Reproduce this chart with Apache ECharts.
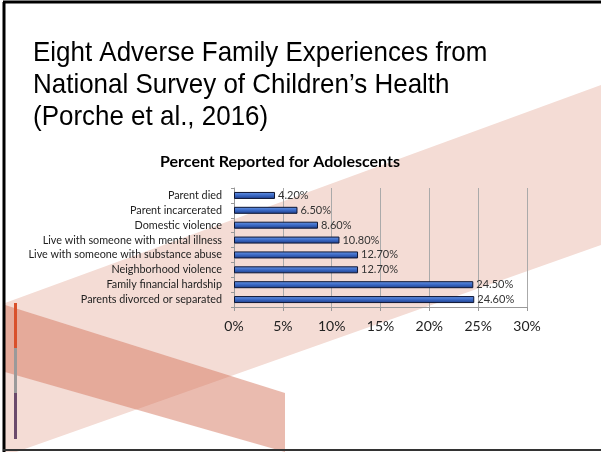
<!DOCTYPE html>
<html><head><meta charset="utf-8">
<script src="https://cdn.jsdelivr.net/npm/echarts@6/dist/echarts.min.js"></script>
<style>html,body{margin:0;padding:0;background:#fff}#c{width:601px;height:452px}</style>
</head><body><div id="c"></div>
<script>
const categories = ["Parent died","Parent incarcerated","Domestic violence","Live with someone with mental illness","Live with someone with substance abuse","Neighborhood violence","Family financial hardship","Parents divorced or separated"];
const values = [4.2,6.5,8.6,10.8,12.7,12.7,24.5,24.6];
const titleLines = ["Eight Adverse Family Experiences from","National Survey of Children’s Health","(Porche et al., 2016)"];
const chartTitle = "Percent Reported for Adolescents";

const chart = echarts.init(document.getElementById('c'));
const graphics = [
  {type:'polygon', z:-10, shape:{points:[[5,303],[601,85],[601,245],[5,456]]}, style:{fill:'#f4dcd5'}},
  {type:'polygon', z:-9, shape:{points:[[5,305],[285,393],[285,452],[5,372]]}, style:{fill:'rgba(214,120,95,0.5)'}},
  {type:'rect', z:-8, shape:{x:14,y:303,width:3,height:45}, style:{fill:'#d9502a'}},
  {type:'rect', z:-8, shape:{x:14,y:348,width:3,height:45}, style:{fill:'#9a9a9a'}},
  {type:'rect', z:-8, shape:{x:14,y:393,width:3,height:46}, style:{fill:'#6b4a6b'}},
  {type:'line', z:-7, shape:{x1:3,y1:2,x2:601,y2:2}, style:{stroke:'#000',lineWidth:3}},
  {type:'line', z:-7, shape:{x1:4,y1:2,x2:4,y2:452}, style:{stroke:'#000',lineWidth:3}},
  {type:'line', z:-7, shape:{x1:3,y1:450,x2:601,y2:450}, style:{stroke:'#333',lineWidth:2}},
  {type:'text', x:280, y:162, style:{text:chartTitle, font:'bold 16px Lato', fill:'#000', textAlign:'center', textVerticalAlign:'middle'}}
];
titleLines.forEach((t,i)=>{
  graphics.push({type:'text', x:33, y:53+32*i, scaleX:0.927, style:{text:t, font:'28px "Liberation Sans"', fill:'#000', textVerticalAlign:'middle'}});
});

chart.setOption({
  animation:false,
  graphic:{elements:graphics},
  grid:{left:234, right:74, top:188, height:119},
  xAxis:{type:'value', min:0, max:30, interval:5,
    axisLine:{show:true, lineStyle:{color:'#999'}},
    axisTick:{show:true, length:4, lineStyle:{color:'#999'}},
    splitLine:{show:true, lineStyle:{color:'#aaa'}},
    axisLabel:{formatter:'{value}%', color:'#222', fontSize:14, fontFamily:'Lato', margin:12}
  },
  yAxis:{type:'category', data:categories, inverse:true,
    axisLine:{show:true, lineStyle:{color:'#999'}},
    axisTick:{show:true, length:3, lineStyle:{color:'#999'}},
    axisLabel:{color:'#222', fontSize:10.8, fontFamily:'Lato', margin:12}
  },
  series:[{type:'bar', data:values, barWidth:7,
    itemStyle:{borderColor:'#0d1533', borderWidth:1,
      color:new echarts.graphic.LinearGradient(0,0,0,1,[{offset:0,color:'#6a98e8'},{offset:0.5,color:'#3a68c4'},{offset:1,color:'#1e3c86'}])},
    label:{show:true, position:'right', distance:3, color:'#333', fontSize:11, fontFamily:'Lato',
      formatter:p=>p.value.toFixed(2)+'%'}
  }]
});
</script></body></html>
